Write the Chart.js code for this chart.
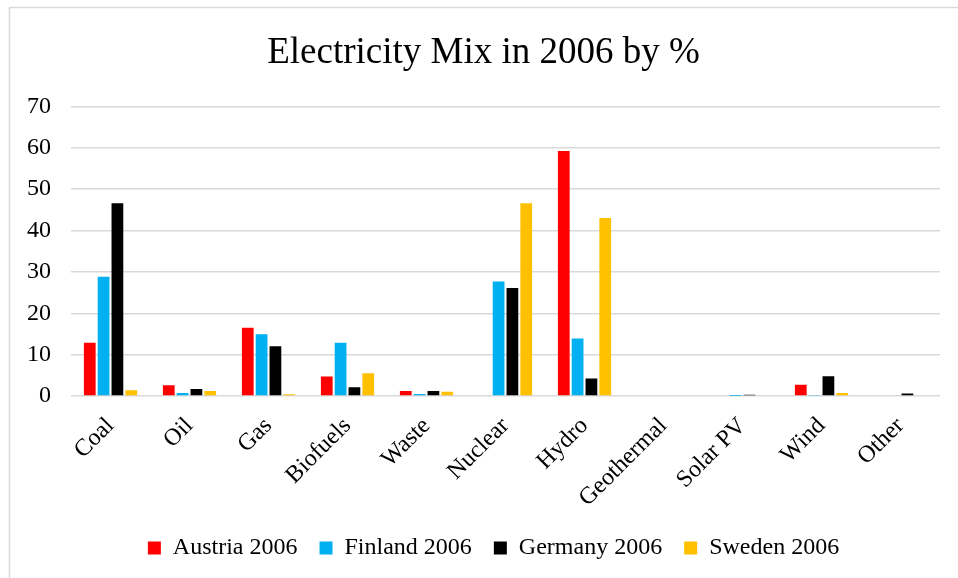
<!DOCTYPE html>
<html>
<head>
<meta charset="utf-8">
<script src="https://cdn.jsdelivr.net/npm/chart.js@4/dist/chart.umd.min.js"></script>
<style>
  html, body { margin: 0; padding: 0; background: #ffffff; }
  #wrap { position: relative; width: 958px; height: 578px; }
  canvas { display: block; }
</style>
</head>
<body>
<div id="wrap"><canvas id="mix" width="958" height="578"></canvas></div>
<script>
// Electricity generation share by source, 2006 (%)
const sources = ['Coal', 'Oil', 'Gas', 'Biofuels', 'Waste', 'Nuclear', 'Hydro', 'Geothermal', 'Solar PV', 'Wind', 'Other'];
const austria = [12.9, 2.6, 16.5, 4.7, 1.2, 0, 59.2, 0, 0, 2.7, 0];
const finland = [28.8, 0.7, 14.9, 12.9, 0.5, 27.7, 13.9, 0, 0.02, 0.1, 0.2];
const germany = [46.6, 1.7, 12.0, 2.1, 1.2, 26.1, 4.2, 0, 0.3, 4.8, 0.6];
const sweden = [1.4, 1.2, 0.4, 5.5, 1.0, 46.6, 43.0, 0, 0, 0.7, 0];
const yTicks = [0, 10, 20, 30, 40, 50, 60, 70];

const serif = '"Liberation Serif", "Times New Roman", serif';

// thin frame along the left and top edges of the chart panel
const frame = {
  id: 'frame',
  beforeDraw(chart) {
    const c = chart.ctx;
    c.save();
    c.strokeStyle = '#d9d9d9';
    c.lineWidth = 1.5;
    c.beginPath();
    c.moveTo(9.5, 578);
    c.lineTo(9.5, 7.5);
    c.lineTo(958, 7.5);
    c.stroke();
    c.restore();
  }
};

// nudge the legend row so it sits under the plot area rather than the full canvas
const legendShift = {
  id: 'legendShift',
  afterLayout(chart) {
    const lg = chart.legend;
    if (lg) { lg.left += 10; lg.right += 10; }
  }
};

new Chart(document.getElementById('mix'), {
  type: 'bar',
  data: {
    labels: sources,
    datasets: [
      { label: 'Austria 2006', data: austria, backgroundColor: '#ff0000' },
      { label: 'Finland 2006', data: finland, backgroundColor: '#00b0f0' },
      { label: 'Germany 2006', data: germany, backgroundColor: '#000000' },
      { label: 'Sweden 2006', data: sweden, backgroundColor: '#ffc000' }
    ]
  },
  options: {
    responsive: false,
    animation: false,
    devicePixelRatio: 1,
    layout: { padding: { top: 31, left: 27, right: 18, bottom: 8 } },
    datasets: { bar: { categoryPercentage: 0.7, barPercentage: 0.85 } },
    plugins: {
      title: {
        display: true,
        text: 'Electricity Mix in 2006 by %',
        color: '#000000',
        font: { family: serif, size: 37, weight: 'normal' },
        padding: { top: 0, bottom: 31 }
      },
      legend: {
        position: 'bottom',
        labels: {
          color: '#000000',
          font: { family: serif, size: 24 },
          boxWidth: 13,
          boxHeight: 13,
          padding: 22
        }
      },
      tooltip: { enabled: false }
    },
    scales: {
      x: {
        afterFit(axis) { axis.height = 118; },
        grid: { display: false, drawTicks: false },
        border: { display: false },
        ticks: {
          color: '#000000',
          font: { family: serif, size: 24 },
          minRotation: 45,
          maxRotation: 45,
          padding: 16
        }
      },
      y: {
        min: 0,
        max: 70,
        afterBuildTicks(axis) { axis.ticks = yTicks.map(v => ({ value: v })); },
        afterFit(axis) { axis.width = 44; },
        grid: { color: '#d9d9d9', lineWidth: 1.5, drawTicks: false },
        border: { display: false },
        ticks: {
          color: '#000000',
          font: { family: serif, size: 24 },
          padding: 20
        }
      }
    }
  },
  plugins: [frame, legendShift]
});
</script>
</body>
</html>
